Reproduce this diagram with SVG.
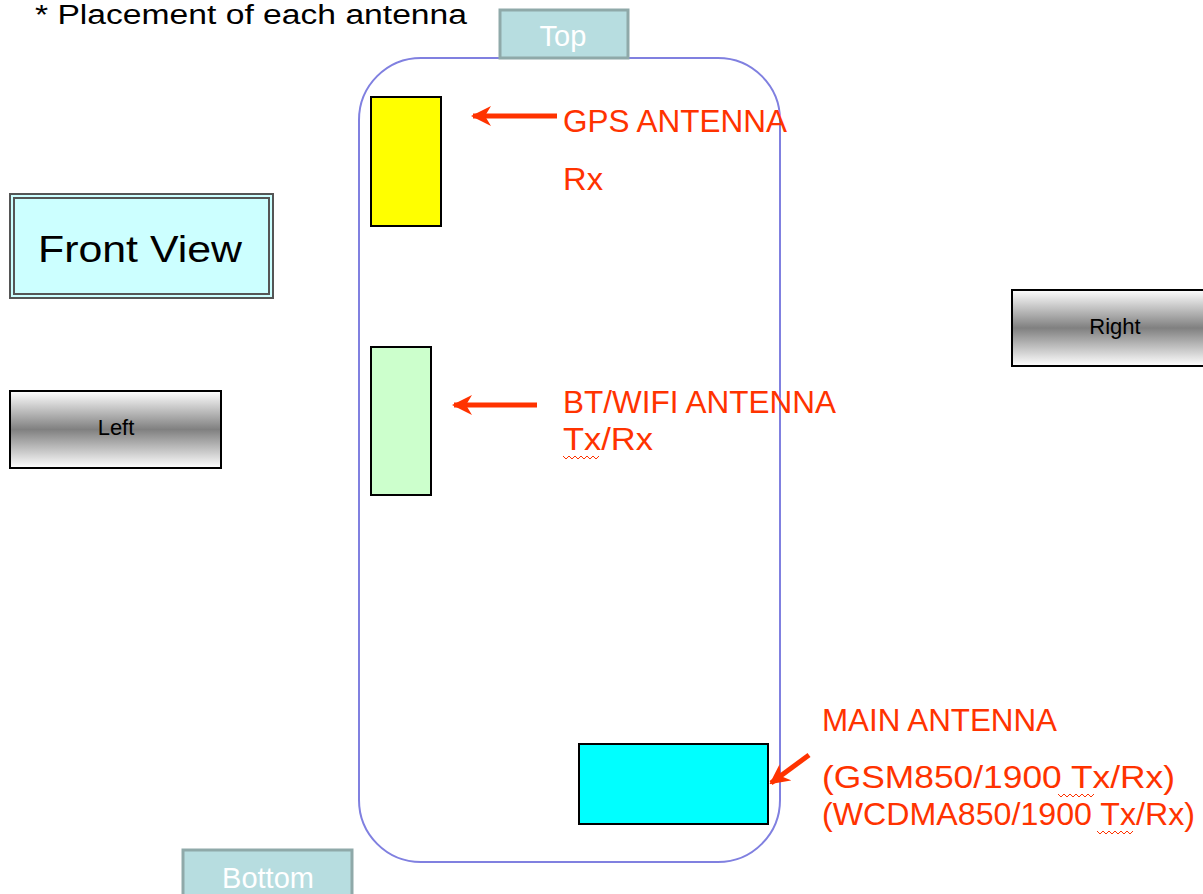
<svg xmlns="http://www.w3.org/2000/svg" width="1203" height="894" viewBox="0 0 1203 894">
<defs>
<style>
.lbl{font-family:"Liberation Sans",Arial,sans-serif;fill:#ff3300;font-size:32px}
.tab{fill:#b7dde0;stroke:#8fa9a9;stroke-width:3}
.tabt{font-family:"Liberation Sans",Arial,sans-serif;fill:#ffffff;font-size:29px;text-anchor:middle}
.side{fill:url(#g);stroke:#000;stroke-width:2}
.sidet{font-family:"Liberation Sans",Arial,sans-serif;fill:#000;font-size:22px;text-anchor:middle}
.ant{stroke:#000;stroke-width:2}
.arr{stroke:#ff3300;stroke-width:5;fill:none}
.wave{stroke:#ff3300;stroke-width:1;fill:none}
</style>
<linearGradient id="g" x1="0" y1="0" x2="0" y2="1">
<stop offset="0" stop-color="#ffffff"/>
<stop offset="0.5" stop-color="#808080"/>
<stop offset="1" stop-color="#ffffff"/>
</linearGradient>
<marker id="ah" viewBox="0 0 10 10" refX="9" refY="5" markerWidth="4" markerHeight="4" orient="auto" markerUnits="strokeWidth">
<path d="M0,0 L10,5 L0,10 L3,5 z" fill="#ff3300"/>
</marker>
</defs>
<rect width="1203" height="894" fill="#ffffff"/>
<text x="35" y="24" font-family="Liberation Sans,Arial,sans-serif" font-size="27" fill="#000" textLength="432" lengthAdjust="spacingAndGlyphs">* Placement of each antenna</text>
<g id="phone">
<rect x="359" y="58" width="421" height="804" rx="62" ry="62" fill="none" stroke="#8080e0" stroke-width="2"/>
</g>
<g id="top">
<rect class="tab" x="500" y="10" width="128" height="48"/>
<text class="tabt" x="563" y="46">Top</text>
</g>
<g id="bottom">
<rect class="tab" x="183" y="850" width="169" height="50"/>
<text class="tabt" x="268" y="888">Bottom</text>
</g>
<g id="front-view">
<rect x="10" y="194" width="263" height="104" fill="#ccffff" stroke="#555" stroke-width="2"/>
<rect x="14" y="198" width="255" height="96" fill="none" stroke="#555" stroke-width="2"/>
<text x="38" y="262" font-family="Liberation Sans,Arial,sans-serif" font-size="37" fill="#000" textLength="204" lengthAdjust="spacingAndGlyphs">Front  View</text>
</g>
<g id="left">
<rect class="side" x="10" y="391" width="211" height="77"/>
<text class="sidet" x="116" y="435">Left</text>
</g>
<g id="right">
<rect class="side" x="1012" y="290" width="195" height="76"/>
<text class="sidet" x="1115" y="334">Right</text>
</g>
<g id="gps-antenna">
<rect class="ant" x="371" y="97" width="70" height="129" fill="#ffff00"/>
</g>
<g id="bt-antenna">
<rect class="ant" x="371" y="347" width="60" height="148" fill="#ccffcc"/>
</g>
<g id="main-antenna">
<rect class="ant" x="579" y="744" width="189" height="80" fill="#00ffff"/>
</g>
<g id="connectors">
<line class="arr" x1="557" y1="116" x2="473" y2="116" marker-end="url(#ah)"/>
<line class="arr" x1="537" y1="405" x2="454" y2="405" marker-end="url(#ah)"/>
<line class="arr" x1="809" y1="755" x2="771" y2="783" marker-end="url(#ah)"/>
</g>
<g id="labels">
<text class="lbl" x="563" y="132" textLength="224" lengthAdjust="spacingAndGlyphs">GPS ANTENNA</text>
<text class="lbl" x="563" y="190" textLength="40" lengthAdjust="spacingAndGlyphs">Rx</text>
<text class="lbl" x="563" y="413" textLength="273" lengthAdjust="spacingAndGlyphs">BT/WIFI ANTENNA</text>
<text class="lbl" x="563" y="450" textLength="90" lengthAdjust="spacingAndGlyphs">Tx/Rx</text>
<path class="wave" d="M563,456 l3,3 l3,-3 l3,3 l3,-3 l3,3 l3,-3 l3,3 l3,-3 l3,3 l3,-3 l3,3 l3,-3"/>
<text class="lbl" x="822" y="731" textLength="235" lengthAdjust="spacingAndGlyphs">MAIN ANTENNA</text>
<text class="lbl" x="822" y="788" textLength="353" lengthAdjust="spacingAndGlyphs">(GSM850/1900 Tx/Rx)</text>
<path class="wave" d="M1058,794 l3,3 l3,-3 l3,3 l3,-3 l3,3 l3,-3 l3,3 l3,-3 l3,3 l3,-3 l3,3 l3,-3"/>
<text class="lbl" x="822" y="825" textLength="373" lengthAdjust="spacingAndGlyphs">(WCDMA850/1900 Tx/Rx)</text>
<path class="wave" d="M1097,831 l3,3 l3,-3 l3,3 l3,-3 l3,3 l3,-3 l3,3 l3,-3 l3,3 l3,-3 l3,3 l3,-3"/>
</g>
</svg>
